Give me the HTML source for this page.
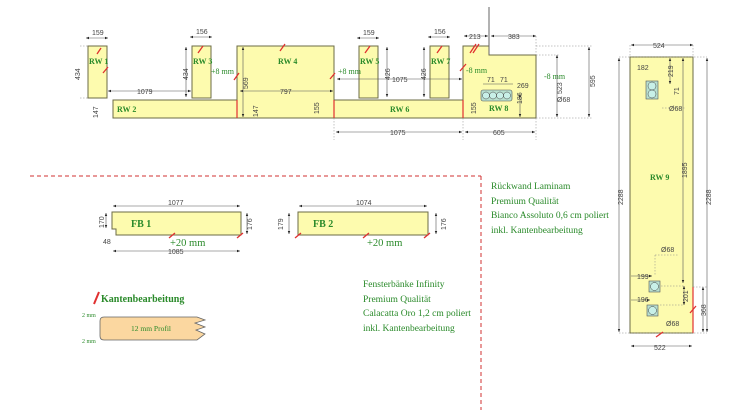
<!DOCTYPE html>
<html><head><meta charset="utf-8"><style>
html,body{margin:0;padding:0;background:#fff;}
svg{display:block;}
.d{font-family:"Liberation Sans",sans-serif;font-size:7px;fill:#444;}
.g{font-family:"Liberation Serif",serif;font-weight:bold;font-size:8px;fill:#2a8a2a;}
.t{font-family:"Liberation Serif",serif;font-size:9.5px;fill:#2a8a2a;}
.p{fill:#fdfbae;stroke:#6b6b45;stroke-width:1;}
.dim{stroke:#555;stroke-width:0.6;fill:none;}
.dot{stroke:#888;stroke-width:0.5;stroke-dasharray:1.5 1.5;fill:none;}
.r{stroke:#e03030;stroke-width:1.3;}
</style></head><body>
<svg width="750" height="410" viewBox="0 0 750 410" xmlns="http://www.w3.org/2000/svg">
<defs><marker id="a" markerWidth="6" markerHeight="6" refX="5" refY="3" orient="auto-start-reverse"><path d="M0,1 L5,3 L0,5z" fill="#222"/></marker></defs>

<rect class="p" x="88" y="46" width="19" height="52"/>
<rect class="p" x="113" y="100" width="124" height="18"/>
<rect class="p" x="192" y="46" width="19" height="52"/>
<rect class="p" x="237" y="46" width="97" height="72"/>
<rect class="p" x="359" y="46" width="19" height="52"/>
<rect class="p" x="334" y="100" width="129" height="18"/>
<rect class="p" x="430" y="46" width="19" height="52"/>
<path class="p" d="M463,46 L489,46 L489,55 L536,55 L536,118 L463,118z"/>
<line x1="489" y1="7" x2="489" y2="55" stroke="#666" stroke-width="1"/>
<line x1="237" y1="100" x2="237" y2="118" stroke="#e03030" stroke-width="1.2"/>
<line x1="334" y1="100" x2="334" y2="118" stroke="#e03030" stroke-width="1.2"/>
<line x1="463" y1="100" x2="463" y2="118" stroke="#e03030" stroke-width="1.2"/>

<text class="g" x="89" y="64">RW 1</text>
<text class="g" x="117" y="112">RW 2</text>
<text class="g" x="193" y="64">RW 3</text>
<text class="g" x="278" y="64">RW 4</text>
<text class="g" x="360" y="64">RW 5</text>
<text class="g" x="390" y="112">RW 6</text>
<text class="g" x="431" y="64">RW 7</text>
<text class="g" x="489" y="111">RW 8</text>

<g class="dim">
<line x1="86" y1="38" x2="108" y2="38" marker-start="url(#a)" marker-end="url(#a)"/>
<line x1="190" y1="37" x2="212" y2="37" marker-start="url(#a)" marker-end="url(#a)"/>
<line x1="357" y1="38" x2="379" y2="38" marker-start="url(#a)" marker-end="url(#a)"/>
<line x1="428" y1="37" x2="450" y2="37" marker-start="url(#a)" marker-end="url(#a)"/>
<line x1="108" y1="91" x2="191" y2="91" marker-start="url(#a)" marker-end="url(#a)"/>
<line x1="240" y1="91" x2="333" y2="91" marker-start="url(#a)" marker-end="url(#a)"/>
<line x1="337" y1="79" x2="462" y2="79" marker-start="url(#a)" marker-end="url(#a)"/>
<line x1="336" y1="132" x2="462" y2="132" marker-start="url(#a)" marker-end="url(#a)"/>
<line x1="465" y1="132" x2="535" y2="132" marker-start="url(#a)" marker-end="url(#a)"/>
<line x1="464" y1="36" x2="488" y2="36" marker-start="url(#a)" marker-end="url(#a)"/>
<line x1="491" y1="36" x2="536" y2="36" marker-start="url(#a)" marker-end="url(#a)"/>
<line x1="186" y1="47" x2="186" y2="97" marker-start="url(#a)" marker-end="url(#a)"/>
<line x1="243" y1="47" x2="243" y2="117" marker-start="url(#a)" marker-end="url(#a)"/>
<line x1="387" y1="47" x2="387" y2="97" marker-start="url(#a)" marker-end="url(#a)"/>
<line x1="424" y1="47" x2="424" y2="97" marker-start="url(#a)" marker-end="url(#a)"/>
<line x1="557" y1="55" x2="557" y2="117" marker-start="url(#a)" marker-end="url(#a)"/>
<line x1="589" y1="47" x2="589" y2="117" marker-start="url(#a)" marker-end="url(#a)"/>
<line x1="520" y1="94" x2="520" y2="117" marker-start="url(#a)" marker-end="url(#a)"/>
<line x1="483" y1="84" x2="513" y2="84"/>
</g>
<g class="dot">
<line x1="80" y1="46" x2="88" y2="46"/><line x1="80" y1="98" x2="88" y2="98"/>
<line x1="334" y1="118" x2="334" y2="140"/><line x1="463" y1="118" x2="463" y2="140"/><line x1="536" y1="118" x2="536" y2="140"/>
<line x1="536" y1="46" x2="592" y2="46"/><line x1="536" y1="55" x2="560" y2="55"/><line x1="536" y1="118" x2="592" y2="118"/>
<line x1="536" y1="36" x2="536" y2="55"/>
</g>
<text class="d" x="92" y="35">159</text>
<text class="d" x="196" y="34">156</text>
<text class="d" x="363" y="35">159</text>
<text class="d" x="434" y="34">156</text>
<text class="d" x="137" y="94">1079</text>
<text class="d" x="280" y="94">797</text>
<text class="d" x="392" y="82">1075</text>
<text class="d" x="390" y="135">1075</text>
<text class="d" x="493" y="135">605</text>
<text class="d" x="469" y="39">213</text>
<text class="d" x="508" y="39">383</text>
<text class="d" x="517" y="88">269</text>
<text class="d" x="557" y="102">Ø68</text>
<text class="d" x="487" y="82">71</text>
<text class="d" x="500" y="82">71</text>
<text class="t" style="font-size:8px" x="211" y="74">+8 mm</text>
<text class="t" style="font-size:8px" x="338" y="74">+8 mm</text>
<text class="t" style="font-size:8px" x="466" y="73">-8 mm</text>
<text class="t" style="font-size:8px" x="544" y="79">-8 mm</text>
<g class="d">
<text transform="translate(80,80) rotate(-90)">434</text>
<text transform="translate(188,80) rotate(-90)">434</text>
<text transform="translate(248,89) rotate(-90)">569</text>
<text transform="translate(390,80) rotate(-90)">426</text>
<text transform="translate(426,80) rotate(-90)">426</text>
<text transform="translate(562,94) rotate(-90)">523</text>
<text transform="translate(595,87) rotate(-90)">595</text>
<text transform="translate(98,118) rotate(-90)">147</text>
<text transform="translate(258,117) rotate(-90)">147</text>
<text transform="translate(319,114) rotate(-90)">155</text>
<text transform="translate(476,114) rotate(-90)">155</text>
<text transform="translate(522,104) rotate(-90)">186</text>
</g>
<rect x="481" y="90" width="31" height="11" rx="2" fill="#b8e0d0" stroke="#555" stroke-width="0.6"/>
<circle cx="486" cy="95.5" r="3.5" fill="#c8f0e8" stroke="#444" stroke-width="0.5"/>
<circle cx="493" cy="95.5" r="3.5" fill="#c8f0e8" stroke="#444" stroke-width="0.5"/>
<circle cx="500" cy="95.5" r="3.5" fill="#c8f0e8" stroke="#444" stroke-width="0.5"/>
<circle cx="507" cy="95.5" r="3.5" fill="#c8f0e8" stroke="#444" stroke-width="0.5"/>

<g class="r">
<line x1="97" y1="54" x2="101" y2="48"/><line x1="103" y1="73" x2="108" y2="67"/>
<line x1="198" y1="53" x2="203" y2="46"/><line x1="234" y1="80" x2="239" y2="73"/>
<line x1="280" y1="51" x2="285" y2="44"/><line x1="330" y1="79" x2="335" y2="73"/>
<line x1="365" y1="53" x2="370" y2="46"/><line x1="437" y1="53" x2="442" y2="46"/>
<line x1="460" y1="71" x2="466" y2="64"/><line x1="470" y1="53" x2="476" y2="44"/><line x1="473" y1="53" x2="479" y2="44"/>
</g>

<rect class="p" x="630" y="57" width="63" height="276"/>
<line x1="693" y1="287" x2="693" y2="333" stroke="#e03030" stroke-width="1.2"/>
<text class="g" x="650" y="180">RW 9</text>
<g class="dim">
<line x1="631" y1="45" x2="693" y2="45" marker-start="url(#a)" marker-end="url(#a)"/>
<line x1="631" y1="346" x2="692" y2="346" marker-start="url(#a)" marker-end="url(#a)"/>
<line x1="619" y1="58" x2="619" y2="332" marker-start="url(#a)" marker-end="url(#a)"/>
<line x1="707" y1="58" x2="707" y2="332" marker-start="url(#a)" marker-end="url(#a)"/>
<line x1="683" y1="58" x2="683" y2="283" marker-start="url(#a)" marker-end="url(#a)"/>
<line x1="670" y1="58" x2="670" y2="84" marker-start="url(#a)" marker-end="url(#a)"/>
<line x1="684" y1="286" x2="684" y2="305" marker-start="url(#a)" marker-end="url(#a)"/>
<line x1="703" y1="287" x2="703" y2="332" marker-start="url(#a)" marker-end="url(#a)"/>
<line x1="631" y1="276" x2="652" y2="276" marker-end="url(#a)"/>
<line x1="631" y1="300" x2="650" y2="300" marker-end="url(#a)"/>
</g>
<g class="dot">
<line x1="619" y1="57" x2="707" y2="57"/><line x1="619" y1="333" x2="707" y2="333"/>
<line x1="630" y1="45" x2="630" y2="57"/><line x1="693" y1="45" x2="693" y2="57"/>
<line x1="655" y1="255" x2="655" y2="275"/><line x1="655" y1="255" x2="678" y2="255"/>
<line x1="658" y1="286" x2="684" y2="286"/><line x1="660" y1="305" x2="684" y2="305"/>
<line x1="693" y1="287" x2="708" y2="287"/>
<line x1="662" y1="108" x2="685" y2="108"/>
</g>
<text class="d" x="637" y="70">182</text>
<text class="d" x="653" y="48">524</text>
<text class="d" x="654" y="350">522</text>
<text class="d" x="669" y="111">Ø68</text>
<text class="d" x="661" y="252">Ø68</text>
<text class="d" x="666" y="326">Ø68</text>
<text class="d" x="637" y="279">199</text>
<text class="d" x="637" y="302">196</text>
<g class="d">
<text transform="translate(623,205) rotate(-90)">2288</text>
<text transform="translate(711,205) rotate(-90)">2288</text>
<text transform="translate(687,178) rotate(-90)">1895</text>
<text transform="translate(673,77) rotate(-90)">219</text>
<text transform="translate(688,302) rotate(-90)">201</text>
<text transform="translate(706,316) rotate(-90)">368</text>
<text transform="translate(679,95) rotate(-90)">71</text>
</g>
<rect x="646" y="81" width="12" height="18" fill="#b8e0d0" stroke="#555" stroke-width="0.6"/>
<circle cx="652" cy="86" r="4" fill="#c8f0e8" stroke="#444" stroke-width="0.5"/>
<circle cx="652" cy="94" r="4" fill="#c8f0e8" stroke="#444" stroke-width="0.5"/>
<rect x="649" y="281" width="11" height="11" fill="#b8e0d0" stroke="#555" stroke-width="0.6"/>
<circle cx="654.5" cy="286.5" r="4" fill="#c8f0e8" stroke="#444" stroke-width="0.5"/>
<rect x="647" y="305" width="11" height="11" fill="#b8e0d0" stroke="#555" stroke-width="0.6"/>
<circle cx="652.5" cy="310.5" r="4" fill="#c8f0e8" stroke="#444" stroke-width="0.5"/>
<g class="r"><line x1="656" y1="337" x2="663" y2="332"/><line x1="690" y1="313" x2="696" y2="306"/></g>

<line x1="30" y1="176" x2="481" y2="176" stroke="#d03030" stroke-width="1" stroke-dasharray="4 3"/>
<line x1="481" y1="176" x2="481" y2="410" stroke="#d03030" stroke-width="1" stroke-dasharray="4 3"/>

<path class="p" d="M112,212 L241,212 L241,235 L116,235 L116,229 L112,229z"/>
<text class="g" style="font-size:10px" x="131" y="227">FB 1</text>
<text class="t" style="font-size:10.5px" x="170" y="246">+20 mm</text>
<g class="dim">
<line x1="113" y1="206" x2="240" y2="206" marker-start="url(#a)" marker-end="url(#a)"/>
<line x1="113" y1="251" x2="240" y2="251" marker-start="url(#a)" marker-end="url(#a)"/>
<line x1="106" y1="213" x2="106" y2="228" marker-start="url(#a)" marker-end="url(#a)"/>
<line x1="247" y1="213" x2="247" y2="234" marker-start="url(#a)" marker-end="url(#a)"/>
</g>
<text class="d" x="168" y="205">1077</text>
<text class="d" x="168" y="254">1085</text>
<text class="d" x="103" y="244">48</text>
<g class="d"><text transform="translate(104,228) rotate(-90)">170</text><text transform="translate(252,230) rotate(-90)">176</text></g>
<g class="r"><line x1="169" y1="238" x2="175" y2="233"/><line x1="237" y1="238" x2="243" y2="233"/></g>

<rect class="p" x="298" y="212" width="130" height="23"/>
<text class="g" style="font-size:10px" x="313" y="227">FB 2</text>
<text class="t" style="font-size:10.5px" x="367" y="246">+20 mm</text>
<g class="dim">
<line x1="299" y1="206" x2="427" y2="206" marker-start="url(#a)" marker-end="url(#a)"/>
<line x1="289" y1="213" x2="289" y2="234" marker-start="url(#a)" marker-end="url(#a)"/>
<line x1="436" y1="213" x2="436" y2="234" marker-start="url(#a)" marker-end="url(#a)"/>
</g>
<text class="d" x="356" y="205">1074</text>
<g class="d"><text transform="translate(283,230) rotate(-90)">179</text><text transform="translate(446,230) rotate(-90)">176</text></g>
<g class="r"><line x1="295" y1="238" x2="301" y2="233"/><line x1="363" y1="238" x2="369" y2="233"/><line x1="424" y1="238" x2="430" y2="233"/></g>

<line x1="94" y1="304" x2="99" y2="292" stroke="#e03030" stroke-width="2"/>
<text class="g" style="font-size:10px" x="101" y="302">Kantenbearbeitung</text>
<path d="M104,317 L197,317 L205,320 L195,323 L205,327 L196,330 L205,334 L197,340 L104,340 Q100,340 100,336 L100,321 Q100,317 104,317z" fill="#fbd7a0" stroke="#666" stroke-width="0.8"/>
<text class="t" style="font-size:7.5px" x="131" y="331">12 mm Profil</text>
<text class="t" style="font-size:6px" x="82" y="317">2 mm</text>
<text class="t" style="font-size:6px" x="82" y="343">2 mm</text>

<text class="t" x="491" y="189">Rückwand Laminam</text>
<text class="t" x="491" y="204">Premium Qualität</text>
<text class="t" x="491" y="218">Bianco Assoluto 0,6 cm poliert</text>
<text class="t" x="491" y="233">inkl. Kantenbearbeitung</text>
<text class="t" x="363" y="287">Fensterbänke Infinity</text>
<text class="t" x="363" y="302">Premium Qualität</text>
<text class="t" x="363" y="316">Calacatta Oro 1,2 cm poliert</text>
<text class="t" x="363" y="331">inkl. Kantenbearbeitung</text>
</svg>
</body></html>
